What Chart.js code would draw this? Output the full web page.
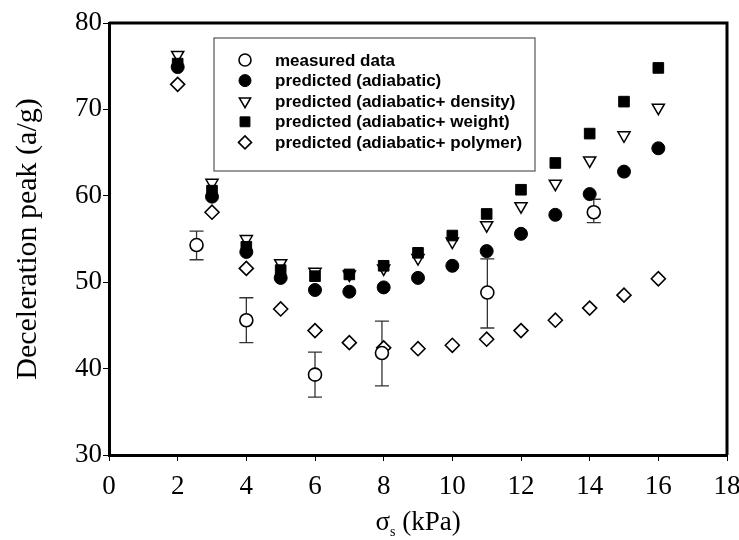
<!DOCTYPE html>
<html>
<head>
<meta charset="utf-8">
<script src="https://cdn.jsdelivr.net/npm/chart.js@4/dist/chart.umd.min.js"></script>
<style>
  html, body { margin: 0; padding: 0; background: #fff; }
  #wrap { width: 739px; height: 540px; }
</style>
</head>
<body>
<div id="wrap"><canvas id="grafico" width="739" height="540"></canvas></div>
<script>
// x positions (kPa)
const sigma = [2, 3, 4, 5, 6, 7, 8, 9, 10, 11, 12, 13, 14, 15, 16];

// measured data with error bars
const medidoX = [2.55, 4, 6, 7.95, 11.02, 14.12];
const medidoY = [54.3, 45.6, 39.3, 41.8, 48.8, 58.1];
const medidoMin = [52.6, 43.0, 36.7, 38.0, 44.7, 56.9];
const medidoMax = [55.9, 48.2, 41.9, 45.5, 52.7, 59.6];

// predicted series
const adiabatico = [74.9, 59.9, 53.5, 50.5, 49.1, 48.9, 49.4, 50.5, 51.9, 53.6, 55.6, 57.8, 60.2, 62.8, 65.5];
const densidad   = [76.3, 61.5, 55.0, 52.2, 51.2, 50.9, 51.6, 52.8, 54.7, 56.6, 58.8, 61.4, 64.1, 67.0, 70.2];
const peso       = [75.3, 60.6, 54.1, 51.4, 50.7, 50.9, 51.9, 53.4, 55.4, 57.9, 60.7, 63.8, 67.2, 70.9, 74.8];
const polimero   = [72.9, 58.1, 51.6, 46.9, 44.4, 43.0, 42.4, 42.3, 42.7, 43.4, 44.4, 45.6, 47.0, 48.5, 50.4];

const etiquetas = [
  "measured data",
  "predicted (adiabatic)",
  "predicted (adiabatic+ density)",
  "predicted (adiabatic+ weight)",
  "predicted (adiabatic+ polymer)"
];

const xTicks = [0, 2, 4, 6, 8, 10, 12, 14, 16, 18];
const yTicks = [30, 40, 50, 60, 70, 80];

const SERIF = "'Liberation Serif', 'Times New Roman', serif";
const SANS = "'Liberation Sans', Arial, sans-serif";

function puntos(xs, ys) {
  return xs.map((x, i) => ({ x, y: ys[i] }));
}

// error bars for the measured series
const barrasError = {
  id: "barrasError",
  beforeDatasetsDraw(chart) {
    const ctx = chart.ctx;
    const sx = chart.scales.x, sy = chart.scales.y;
    ctx.save();
    ctx.strokeStyle = "#333";
    ctx.lineWidth = 1.3;
    medidoX.forEach((x, i) => {
      const px = sx.getPixelForValue(x);
      const p1 = sy.getPixelForValue(medidoMin[i]);
      const p2 = sy.getPixelForValue(medidoMax[i]);
      ctx.beginPath();
      ctx.moveTo(px, p1); ctx.lineTo(px, p2);
      ctx.moveTo(px - 7, p1); ctx.lineTo(px + 7, p1);
      ctx.moveTo(px - 7, p2); ctx.lineTo(px + 7, p2);
      ctx.stroke();
    });
    ctx.restore();
  }
};

// frame, axis titles and the boxed legend
const extras = {
  id: "extras",
  afterDraw(chart) {
    const ctx = chart.ctx;
    const a = chart.chartArea;
    ctx.save();
    // top and right frame lines
    ctx.strokeStyle = "#000";
    ctx.lineWidth = 3;
    ctx.beginPath();
    ctx.moveTo(a.left, a.top);
    ctx.lineTo(a.right, a.top);
    ctx.lineTo(a.right, a.bottom);
    ctx.stroke();

    // y title
    ctx.fillStyle = "#000";
    ctx.font = "30px " + SERIF;
    ctx.textAlign = "center";
    ctx.textBaseline = "middle";
    ctx.save();
    ctx.translate(28, (a.top + a.bottom) / 2);
    ctx.rotate(-Math.PI / 2);
    ctx.fillText("Deceleration peak (a/g)", 0, 0);
    ctx.restore();

    // x title with subscript
    ctx.textAlign = "left";
    ctx.textBaseline = "alphabetic";
    const t1 = "\u03c3", t3 = " (kPa)";
    ctx.font = "14px " + SERIF;
    const wSub = ctx.measureText("s").width;
    ctx.font = "27px " + SERIF;
    const w1 = ctx.measureText(t1).width, w3 = ctx.measureText(t3).width;
    let x0 = (a.left + a.right) / 2 - (w1 + wSub + w3) / 2;
    const base = 530;
    ctx.fillText(t1, x0, base);
    ctx.font = "14px " + SERIF;
    ctx.fillText("s", x0 + w1, base + 6);
    ctx.font = "27px " + SERIF;
    ctx.fillText(t3, x0 + w1 + wSub, base);

    // legend box
    const lx = a.left + 105, ly = a.top + 15;
    ctx.strokeStyle = "#555";
    ctx.lineWidth = 1.2;
    ctx.strokeRect(lx, ly, 321, 133);
    ctx.font = "bold 17px " + SANS;
    ctx.textBaseline = "middle";
    chart.data.datasets.forEach((ds, i) => {
      const yy = ly + 22 + i * 20.6;
      const opts = {
        pointStyle: ds.pointStyle,
        radius: ds.pointRadius - 0.5,
        rotation: ds.rotation || 0,
        borderWidth: ds.borderWidth
      };
      ctx.fillStyle = ds.backgroundColor;
      ctx.strokeStyle = ds.borderColor;
      ctx.lineWidth = ds.borderWidth;
      Chart.helpers.drawPoint(ctx, opts, lx + 31, yy);
      ctx.fillStyle = "#000";
      ctx.fillText(etiquetas[i], lx + 61, yy + 1);
    });
    ctx.restore();
  }
};

const conjuntos = [
  { label: etiquetas[0], data: puntos(medidoX, medidoY), pointStyle: "circle", pointRadius: 6.5,
    backgroundColor: "#fff", borderColor: "#000", borderWidth: 1.6, order: 0 },
  { label: etiquetas[1], data: puntos(sigma, adiabatico), pointStyle: "circle", pointRadius: 6.5,
    backgroundColor: "#000", borderColor: "#000", borderWidth: 1, order: 1 },
  { label: etiquetas[2], data: puntos(sigma, densidad), pointStyle: "triangle", pointRadius: 7, rotation: 180,
    backgroundColor: "#fff", borderColor: "#000", borderWidth: 1.5, order: 3 },
  { label: etiquetas[3], data: puntos(sigma, peso), pointStyle: "rect", pointRadius: 7.5,
    backgroundColor: "#000", borderColor: "#000", borderWidth: 1, order: 2 },
  { label: etiquetas[4], data: puntos(sigma, polimero), pointStyle: "rectRot", pointRadius: 7,
    backgroundColor: "#fff", borderColor: "#000", borderWidth: 1.6, order: 4 }
];

function sinPadding(s) {
  s.paddingLeft = 0; s.paddingRight = 0; s.paddingTop = 0; s.paddingBottom = 0;
}

new Chart(document.getElementById("grafico"), {
  type: "scatter",
  data: {
    datasets: conjuntos.map(c => Object.assign({ showLine: false, pointHoverRadius: c.pointRadius, pointRotation: c.rotation || 0 }, c))
  },
  options: {
    responsive: false,
    animation: false,
    devicePixelRatio: 1,
    layout: { padding: { left: 0, top: 23, right: 12, bottom: 0 } },
    plugins: { legend: { display: false }, tooltip: { enabled: false } },
    scales: {
      x: {
        type: "linear", min: 0, max: 18,
        afterFit: s => { s.height = 85; sinPadding(s); },
        afterBuildTicks: s => { s.ticks = xTicks.map(v => ({ value: v })); },
        grid: { drawOnChartArea: false, drawTicks: true, tickLength: 6, color: "#000", lineWidth: 1 },
        border: { color: "#000", width: 3 },
        ticks: { color: "#000", padding: 10, maxRotation: 0, font: { family: SERIF, size: 27 } }
      },
      y: {
        type: "linear", min: 30, max: 80,
        afterFit: s => { s.width = 109; sinPadding(s); },
        afterBuildTicks: s => { s.ticks = yTicks.map(v => ({ value: v })); },
        grid: { drawOnChartArea: false, drawTicks: true, tickLength: 6, color: "#000", lineWidth: 1 },
        border: { color: "#000", width: 3 },
        ticks: { color: "#000", padding: 1, font: { family: SERIF, size: 27 } }
      }
    }
  },
  plugins: [barrasError, extras]
});
</script>
</body>
</html>
